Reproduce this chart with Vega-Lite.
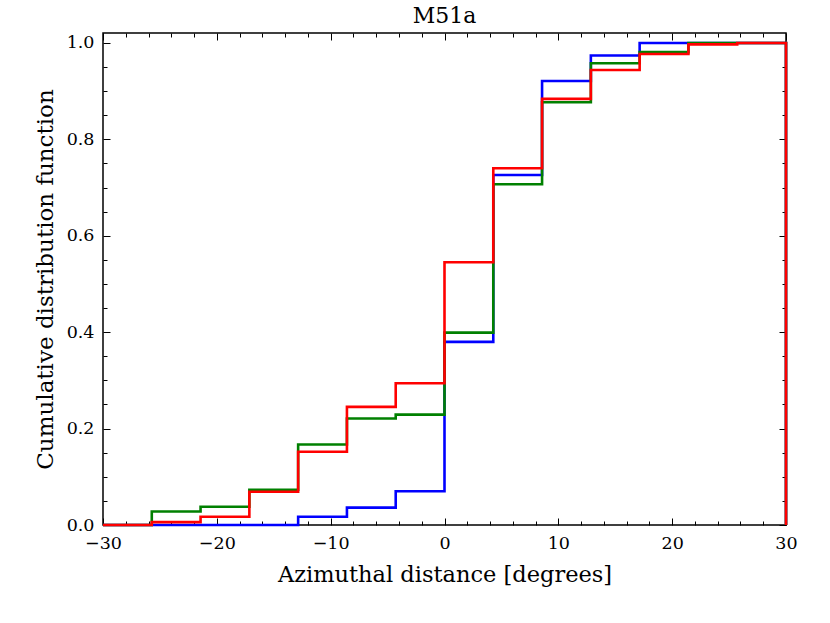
{
  "$schema": "https://vega.github.io/schema/vega-lite/v6.json",
  "autosize": {"type": "none"},
  "padding": {"left": 103, "top": 33, "right": 44, "bottom": 98},
  "width": 683,
  "height": 492,
  "title": {"text": "M51a", "font": "DejaVu Serif", "fontSize": 22, "fontWeight": "normal", "color": "black", "offset": 5},
  "data": {
    "values": [
      {"s": "blue", "i": 0, "x": -30, "y": 0},
      {"s": "blue", "i": 1, "x": -25.714, "y": 0},
      {"s": "blue", "i": 2, "x": -21.429, "y": 0},
      {"s": "blue", "i": 3, "x": -17.143, "y": 0},
      {"s": "blue", "i": 4, "x": -12.857, "y": 0.017},
      {"s": "blue", "i": 5, "x": -8.571, "y": 0.036},
      {"s": "blue", "i": 6, "x": -4.286, "y": 0.07},
      {"s": "blue", "i": 7, "x": 0, "y": 0.38},
      {"s": "blue", "i": 8, "x": 4.286, "y": 0.726},
      {"s": "blue", "i": 9, "x": 8.571, "y": 0.921},
      {"s": "blue", "i": 10, "x": 12.857, "y": 0.974},
      {"s": "blue", "i": 11, "x": 17.143, "y": 1},
      {"s": "blue", "i": 12, "x": 21.429, "y": 1},
      {"s": "blue", "i": 13, "x": 25.714, "y": 1},
      {"s": "blue", "i": 14, "x": 30, "y": 1},
      {"s": "blue", "i": 15, "x": 30, "y": 0},
      {"s": "green", "i": 0, "x": -30, "y": 0},
      {"s": "green", "i": 1, "x": -25.714, "y": 0.028},
      {"s": "green", "i": 2, "x": -21.429, "y": 0.038},
      {"s": "green", "i": 3, "x": -17.143, "y": 0.073},
      {"s": "green", "i": 4, "x": -12.857, "y": 0.167},
      {"s": "green", "i": 5, "x": -8.571, "y": 0.221},
      {"s": "green", "i": 6, "x": -4.286, "y": 0.229},
      {"s": "green", "i": 7, "x": 0, "y": 0.399},
      {"s": "green", "i": 8, "x": 4.286, "y": 0.707},
      {"s": "green", "i": 9, "x": 8.571, "y": 0.877},
      {"s": "green", "i": 10, "x": 12.857, "y": 0.958},
      {"s": "green", "i": 11, "x": 17.143, "y": 0.981},
      {"s": "green", "i": 12, "x": 21.429, "y": 1},
      {"s": "green", "i": 13, "x": 25.714, "y": 1},
      {"s": "green", "i": 14, "x": 30, "y": 1},
      {"s": "green", "i": 15, "x": 30, "y": 0},
      {"s": "red", "i": 0, "x": -30, "y": 0},
      {"s": "red", "i": 1, "x": -25.714, "y": 0.006},
      {"s": "red", "i": 2, "x": -21.429, "y": 0.017},
      {"s": "red", "i": 3, "x": -17.143, "y": 0.069},
      {"s": "red", "i": 4, "x": -12.857, "y": 0.152},
      {"s": "red", "i": 5, "x": -8.571, "y": 0.245},
      {"s": "red", "i": 6, "x": -4.286, "y": 0.294},
      {"s": "red", "i": 7, "x": 0, "y": 0.545},
      {"s": "red", "i": 8, "x": 4.286, "y": 0.74},
      {"s": "red", "i": 9, "x": 8.571, "y": 0.884},
      {"s": "red", "i": 10, "x": 12.857, "y": 0.944},
      {"s": "red", "i": 11, "x": 17.143, "y": 0.977},
      {"s": "red", "i": 12, "x": 21.429, "y": 0.997},
      {"s": "red", "i": 13, "x": 25.714, "y": 1},
      {"s": "red", "i": 14, "x": 30, "y": 1},
      {"s": "red", "i": 15, "x": 30, "y": 0}
    ]
  },
  "layer": [
    {
      "mark": {"type": "line", "interpolate": "step-after", "strokeWidth": 2.6, "clip": false},
      "encoding": {
        "x": {
          "field": "x", "type": "quantitative",
          "scale": {"domain": [-30, 30], "nice": false, "zero": false},
          "axis": {"orient": "bottom", "values": [-30, -20, -10, 0, 10, 20, 30], "format": "d", "tickSize": -7, "labelPadding": 16, "labelFlush": false, "title": "Azimuthal distance [degrees]", "titlePadding": 12}
        },
        "y": {
          "field": "y", "type": "quantitative",
          "scale": {"domain": [0, 1.0207], "nice": false, "zero": false},
          "axis": {"orient": "left", "values": [0, 0.2, 0.4, 0.6, 0.8, 1.0], "format": ".1f", "tickSize": -7, "labelPadding": 16, "labelFlush": false, "title": "Cumulative distribution function", "titleFontSize": 23, "titlePadding": 9}
        },
        "color": {
          "field": "s", "type": "nominal",
          "scale": {"domain": ["blue", "green", "red"], "range": ["#0000ff", "#008000", "#ff0000"]},
          "legend": null
        },
        "detail": {"field": "s"},
        "order": {"field": "i", "type": "quantitative"}
      }
    },
    {
      "mark": {"type": "point", "opacity": 0},
      "encoding": {
        "x": {"field": "x", "type": "quantitative", "scale": {"domain": [-30, 30], "nice": false, "zero": false}, "axis": {"orient": "top", "values": [-30, -20, -10, 0, 10, 20, 30], "tickSize": -7, "labels": false, "title": null}},
        "y": {"field": "y", "type": "quantitative", "scale": {"domain": [0, 1.0207], "nice": false, "zero": false}, "axis": {"orient": "right", "values": [0, 0.2, 0.4, 0.6, 0.8, 1.0], "tickSize": -7, "labels": false, "title": null}}
      }
    },
    {
      "mark": {"type": "point", "opacity": 0},
      "encoding": {
        "x": {"field": "x", "type": "quantitative", "scale": {"domain": [-30, 30], "nice": false, "zero": false}, "axis": {"orient": "bottom", "values": [-28, -26, -24, -22, -18, -16, -14, -12, -8, -6, -4, -2, 2, 4, 6, 8, 12, 14, 16, 18, 22, 24, 26, 28], "tickSize": -4, "labels": false, "title": null}},
        "y": {"field": "y", "type": "quantitative", "scale": {"domain": [0, 1.0207], "nice": false, "zero": false}, "axis": {"orient": "left", "values": [0.05, 0.1, 0.15, 0.25, 0.3, 0.35, 0.45, 0.5, 0.55, 0.65, 0.7, 0.75, 0.85, 0.9, 0.95], "tickSize": -4, "labels": false, "title": null}}
      }
    },
    {
      "mark": {"type": "point", "opacity": 0},
      "encoding": {
        "x": {"field": "x", "type": "quantitative", "scale": {"domain": [-30, 30], "nice": false, "zero": false}, "axis": {"orient": "top", "values": [-28, -26, -24, -22, -18, -16, -14, -12, -8, -6, -4, -2, 2, 4, 6, 8, 12, 14, 16, 18, 22, 24, 26, 28], "tickSize": -4, "labels": false, "title": null}},
        "y": {"field": "y", "type": "quantitative", "scale": {"domain": [0, 1.0207], "nice": false, "zero": false}, "axis": {"orient": "right", "values": [0.05, 0.1, 0.15, 0.25, 0.3, 0.35, 0.45, 0.5, 0.55, 0.65, 0.7, 0.75, 0.85, 0.9, 0.95], "tickSize": -4, "labels": false, "title": null}}
      }
    }
  ],
  "resolve": {"axis": {"x": "independent", "y": "independent"}},
  "config": {
    "view": {"stroke": "black", "strokeWidth": 1.5},
    "axis": {
      "domain": false,
      "grid": false,
      "ticks": true,
      "tickColor": "black",
      "tickWidth": 1,
      "labelFont": "DejaVu Serif",
      "labelFontSize": 17.5,
      "labelColor": "black",
      "titleFont": "DejaVu Serif",
      "titleFontSize": 22.5,
      "titleFontWeight": "normal",
      "titleColor": "black"
    }
  }
}
